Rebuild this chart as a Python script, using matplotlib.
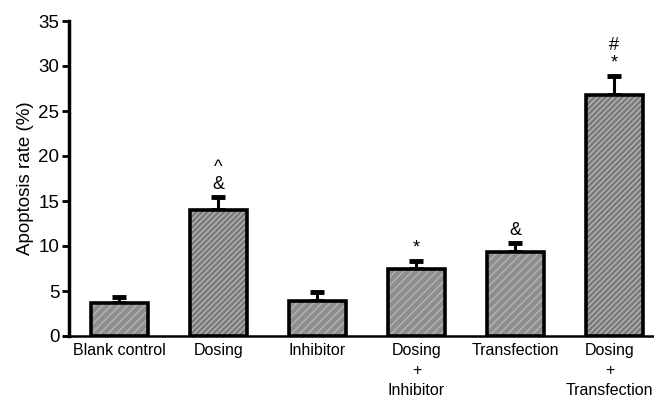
import matplotlib
matplotlib.use('Agg')
import matplotlib.pyplot as plt
import matplotlib.transforms as mtransforms
import numpy as np

plt.rcParams['font.family'] = ['Liberation Sans', 'DejaVu Sans']

# apoptosis rate per group, mean and upper SD
groups = ['Blank control', 'Dosing', 'Inhibitor', 'Dosing\n+\nInhibitor',
          'Transfection', 'Dosing\n+\nTransfection']
rate = [3.7, 14.0, 3.9, 7.4, 9.3, 26.8]
sd = [0.6, 1.4, 1.0, 0.9, 1.0, 2.1]
marks = ['', '^\n&', '', '*', '&', '#\n*']
dense = [False, True, False, False, False, True]

fig = plt.figure(figsize=(6.54, 4.01), dpi=100)
ax = fig.add_axes([69/654, 65/401, 585/654, 315/401])

x = np.arange(len(groups))
w = 0.58
for i in x:
    hatch = '//////' if dense[i] else '////'
    fc = '#7a7a7a' if dense[i] else '#8e8e8e'
    ax.bar(i, rate[i], w, color=fc, edgecolor='#b5b5b5', hatch=hatch,
           linewidth=0, zorder=2)
ax.bar(x, rate, w, fill=False, edgecolor='black', linewidth=2.6, zorder=3)

ax.errorbar(x, rate, yerr=[np.zeros(len(sd)), sd], fmt='none', ecolor='black',
            elinewidth=2.2, capsize=5, capthick=3.5, zorder=1)

for i in x:
    if marks[i]:
        ax.text(i, rate[i] + sd[i] + 0.5, marks[i], ha='center', va='bottom',
                fontsize=13, linespacing=1.0)

ax.set_xlim(-0.51, 5.4)
ax.set_ylim(0, 35)
ax.set_yticks(range(0, 36, 5))
ax.set_xticks(x)
ax.set_xticklabels(groups, fontsize=11.5, linespacing=1.4, va='top')
ax.tick_params(axis='x', length=0, pad=5)
ax.tick_params(axis='y', length=5, width=2, labelsize=13.5, pad=2)
ax.set_ylabel('Apoptosis rate (%)', fontsize=13.5, labelpad=3)

# keep the last label inside the figure edge
last = ax.get_xticklabels()[-1]
last.set_transform(last.get_transform() +
                   mtransforms.ScaledTranslation(-5/100, 0, fig.dpi_scale_trans))

for s in ['top', 'right']:
    ax.spines[s].set_visible(False)
ax.spines['left'].set_linewidth(2.5)
ax.spines['bottom'].set_linewidth(1.8)
ax.spines['bottom'].set_bounds(-0.56, 5.4)

fig.savefig('out.png', dpi=100)
